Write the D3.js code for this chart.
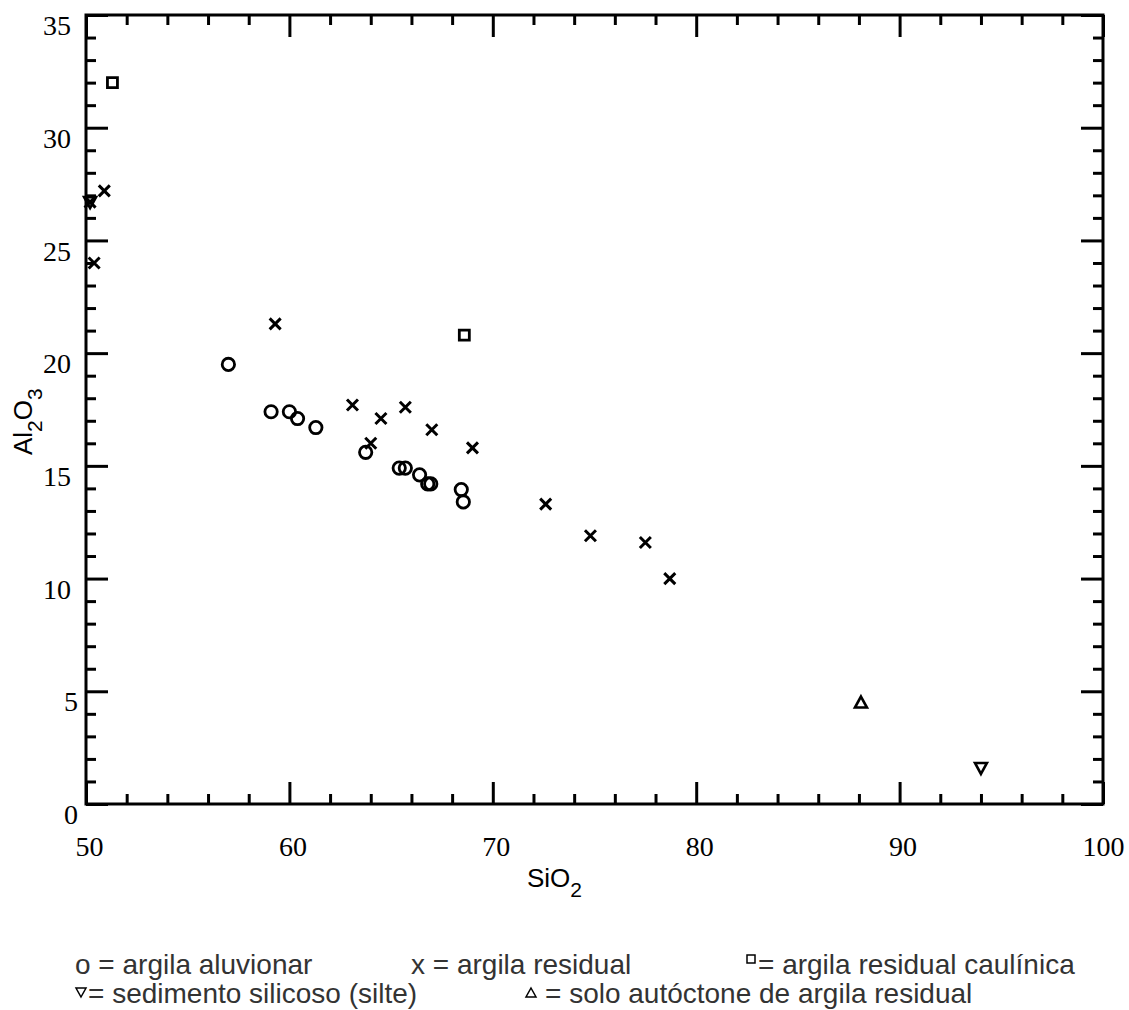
<!DOCTYPE html>
<html>
<head>
<meta charset="utf-8">
<script src="https://cdn.jsdelivr.net/npm/d3@7"></script>
<style>
  body { margin: 0; background: #fff; }
  svg { display: block; }
</style>
</head>
<body>
<svg id="chart"></svg>
<script>
// SiO2 vs Al2O3 (%)
const aluvionar = [
    [57.0, 19.5], [59.1, 17.4], [60.0, 17.4], [60.4, 17.1], [61.3, 16.7],
    [63.75, 15.6], [65.4, 14.9], [65.7, 14.9], [66.4, 14.6], [66.8, 14.2],
    [66.95, 14.2], [68.45, 13.95], [68.55, 13.4]
];
const residual = [
    [50.2, 26.7], [50.9, 27.2], [50.4, 24.0], [59.3, 21.3], [63.1, 17.7],
    [64.0, 16.0], [64.5, 17.1], [65.7, 17.6], [67.0, 16.6], [69.0, 15.8],
    [72.6, 13.3], [74.8, 11.9], [77.5, 11.6], [78.7, 10.0]
];
const caulinica = [[51.3, 32.0], [68.6, 20.8]];
const silte = [[94.0, 1.6], [50.2, 26.7]];
const autoctone = [[88.1, 4.5]];

const xdomain = [50, 100];
const ydomain = [0, 35];
const xticks = [50, 60, 70, 80, 90, 100];
const yticks = [0, 5, 10, 15, 20, 25, 30, 35];

const legend_rows = [
    [['o', 'o = argila aluvionar'], ['x', 'x = argila residual'], ['sq', '= argila residual caulínica']],
    [['down', '= sedimento silicoso (silte)'], ['up', '= solo autóctone de argila residual']]
];

const width = 1129, height = 1010;
const margin = { top: 15, right: 26, bottom: 206, left: 86 };
const inner_width = width - margin.left - margin.right;
const inner_height = height - margin.top - margin.bottom;

const svg = d3.select('#chart')
    .attr('width', width)
    .attr('height', height);

svg.append('rect').attr('width', width).attr('height', height).attr('fill', '#fff');

const chart = svg.append('g')
    .attr('transform', `translate(${margin.left}, ${margin.top})`);

const xscale = d3.scaleLinear().domain(xdomain).range([0, inner_width]);
const yscale = d3.scaleLinear().domain(ydomain).range([inner_height, 0]);

const xminor = d3.range(50, 100.1, 2).filter(v => v % 10 !== 0);
const yminor = d3.range(0, 35.1, 1).filter(v => v % 5 !== 0);

const serif = '"Liberation Serif", "Times New Roman", serif';
const sans = '"Liberation Sans", Arial, sans-serif';

function styleAxis(g) {
    g.select('.domain').remove();
    g.selectAll('.tick line').attr('stroke', '#000').attr('stroke-width', 3);
    g.selectAll('text').attr('fill', '#000').style('font-family', serif).style('font-size', '28px');
}

// bottom
chart.append('g').attr('transform', `translate(0, ${inner_height})`)
    .call(d3.axisBottom(xscale).tickValues(xticks).tickSize(-22).tickPadding(32).tickFormat(d3.format('d')))
    .call(styleAxis)
    .selectAll('text').attr('dx', d => d < 100 ? 3 : 0);
chart.append('g').attr('transform', `translate(0, ${inner_height})`)
    .call(d3.axisBottom(xscale).tickValues(xminor).tickSize(-10).tickFormat(''))
    .call(styleAxis);
// top
chart.append('g')
    .call(d3.axisTop(xscale).tickValues(xticks).tickSize(-22).tickFormat(''))
    .call(styleAxis);
chart.append('g')
    .call(d3.axisTop(xscale).tickValues(xminor).tickSize(-10).tickFormat(''))
    .call(styleAxis);
// left
chart.append('g')
    .call(d3.axisLeft(yscale).tickValues(yticks).tickSize(-22).tickPadding(15).tickFormat(d3.format('d')))
    .call(styleAxis)
    .selectAll('text')
    .attr('dy', '0.7em')
    .attr('dx', d => d < 10 ? 7 : 0);
chart.append('g')
    .call(d3.axisLeft(yscale).tickValues(yminor).tickSize(-10).tickFormat(''))
    .call(styleAxis);
// right
chart.append('g').attr('transform', `translate(${inner_width}, 0)`)
    .call(d3.axisRight(yscale).tickValues(yticks).tickSize(-22).tickFormat(''))
    .call(styleAxis);
chart.append('g').attr('transform', `translate(${inner_width}, 0)`)
    .call(d3.axisRight(yscale).tickValues(yminor).tickSize(-10).tickFormat(''))
    .call(styleAxis);

chart.append('rect')
    .attr('width', inner_width).attr('height', inner_height)
    .attr('fill', 'none').attr('stroke', '#000').attr('stroke-width', 3);

// markers
const shapes = {
    o: d3.symbol(d3.symbolCircle, 120)(),
    x: 'M-5.5,-5.5L5.5,5.5M-5.5,5.5L5.5,-5.5',
    sq: 'M-5,-5H5V5H-5Z',
    up: 'M0,-6L6,5H-6Z',
    down: 'M0,6L6,-5H-6Z'
};

function drawSeries(data, shape, sw) {
    chart.append('g').selectAll('path')
        .data(data)
        .join('path')
        .attr('transform', d => `translate(${xscale(d[0])}, ${yscale(d[1])})`)
        .attr('d', shapes[shape])
        .attr('fill', 'none')
        .attr('stroke', '#000')
        .attr('stroke-width', sw);
}
drawSeries(aluvionar, 'o', 2.8);
drawSeries(residual, 'x', 3);
drawSeries(caulinica, 'sq', 2.8);
drawSeries(silte, 'down', 2.6);
drawSeries(autoctone, 'up', 2.6);

// axis titles
const xt = svg.append('text')
    .attr('x', 527).attr('y', 887)
    .attr('fill', '#000').style('font-family', sans).style('font-size', '26px');
xt.append('tspan').text('SiO');
xt.append('tspan').attr('dy', 10).style('font-size', '21px').text('2');

const yt = svg.append('text')
    .attr('transform', 'translate(32, 455) rotate(-90)')
    .attr('fill', '#000').style('font-family', sans).style('font-size', '26px');
yt.append('tspan').text('Al');
yt.append('tspan').attr('dy', 10).style('font-size', '21px').text('2');
yt.append('tspan').attr('dy', -10).text('O');
yt.append('tspan').attr('dy', 10).style('font-size', '21px').text('3');

// legend
const legend_x = [[75, 411, 745], [75, 525]];
const legend_y = [974, 1003];
const lg = svg.append('g').style('font-family', sans).style('font-size', '28px').attr('fill', '#333');
legend_rows.forEach((row, i) => {
    row.forEach((item, j) => {
        const x = legend_x[i][j], y = legend_y[i];
        const [sym, label] = item;
        if (sym === 'o' || sym === 'x') {
            lg.append('text').attr('x', x).attr('y', y).text(label);
        } else {
            const sp = { sq: 'M-4,-4H4V4H-4Z', up: 'M0,-5L5,4H-5Z', down: 'M0,4L5,-5H-5Z' }[sym];
            const sy = sym === 'sq' ? y - 15 : y - 10;
            lg.append('path')
                .attr('transform', `translate(${x + 6}, ${sy})`)
                .attr('d', sp)
                .attr('fill', 'none').attr('stroke', '#000').attr('stroke-width', 1.5);
            lg.append('text').attr('x', x + (sym === 'up' ? 20 : 13)).attr('y', y).text(label);
        }
    });
});
</script>
</body>
</html>
